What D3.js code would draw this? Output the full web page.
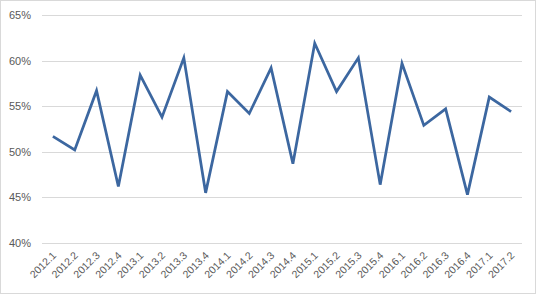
<!DOCTYPE html>
<html><head><meta charset="utf-8">
<script src="https://cdn.jsdelivr.net/npm/d3@7"></script>
<style>
html,body{margin:0;padding:0;background:#fff;}
svg{display:block;}
text{font-family:"Liberation Sans","Open Sans",sans-serif;fill:#595959;}
</style></head><body>
<script>
const categories = ["2012.1","2012.2","2012.3","2012.4","2013.1","2013.2","2013.3","2013.4","2014.1","2014.2","2014.3","2014.4","2015.1","2015.2","2015.3","2015.4","2016.1","2016.2","2016.3","2016.4","2017.1","2017.2"];
const values = [51.7,50.2,56.7,46.2,58.4,53.8,60.3,45.5,56.6,54.2,59.2,48.7,61.9,56.6,60.3,46.4,59.7,52.9,54.7,45.3,56.0,54.4];
const yTicks = [40,45,50,55,60,65];

(function(){
const W = 536, H = 294;
const svg = d3.select("body").append("svg").attr("width", W).attr("height", H);
svg.append("rect").attr("x",0.5).attr("y",0.5).attr("width",W-1).attr("height",H-1)
  .attr("fill","#fff").attr("stroke","#d9d9d9");

const mL = 42, mR = 522, mT = 15, mB = 243;
const x = d3.scaleBand().domain(categories).range([mL, mR]);
const y = d3.scaleLinear().domain([40,65]).range([mB, mT]);

const grid = svg.append("g");
grid.selectAll("line").data(yTicks).join("line")
  .attr("x1", mL).attr("x2", mR)
  .attr("y1", d => Math.round(y(d))+0.5).attr("y2", d => Math.round(y(d))+0.5)
  .attr("stroke", "#d9d9d9").attr("stroke-width", 1);

const yAxis = d3.axisLeft(y).tickValues(yTicks).tickSize(0).tickPadding(0).tickFormat(d => d + "%");
svg.append("g").attr("transform", `translate(${31},0)`).call(yAxis)
  .call(g => g.select(".domain").remove())
  .selectAll("text").attr("font-size", 11).attr("fill","#404040")
  .attr("font-family","Liberation Sans, sans-serif");

const xAxis = d3.axisBottom(x).tickSize(0).tickPadding(0);
svg.append("g").attr("transform", `translate(0,${mB})`).call(xAxis)
  .call(g => g.select(".domain").remove())
  .selectAll("text")
  .attr("font-size", 10.5).attr("fill","#404040")
  .attr("font-family","Liberation Sans, sans-serif")
  .attr("text-anchor","end").attr("dy", null).attr("y", 0)
  .attr("transform", "translate(4,13) rotate(-45)");

const line = d3.line().x((d,i) => x(categories[i]) + x.bandwidth()/2).y(d => y(d));
svg.append("path").datum(values).attr("d", line)
  .attr("fill","none").attr("stroke","#3c67a0").attr("stroke-width",2.75)
  .attr("stroke-linejoin","miter");
})();
</script>
</body></html>
